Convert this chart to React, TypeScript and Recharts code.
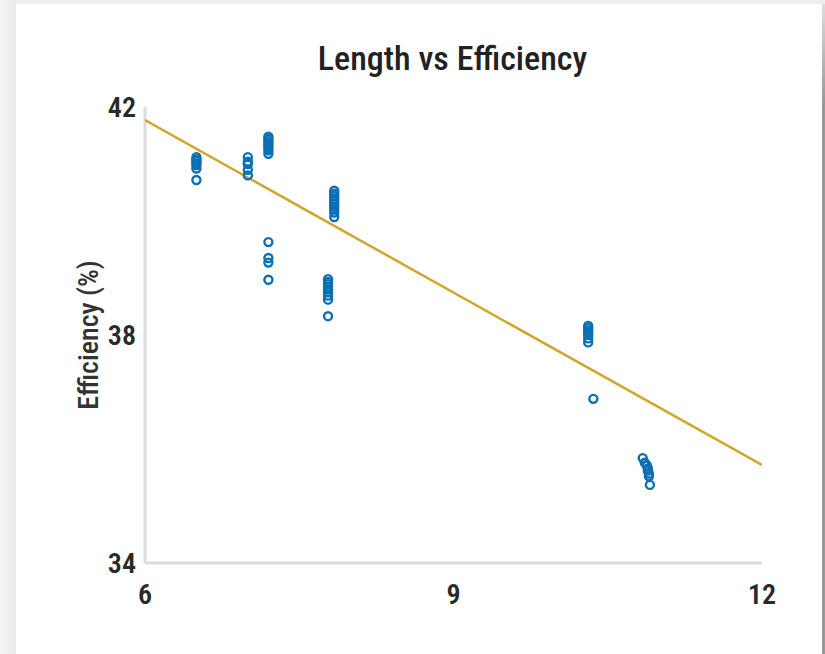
import { ScatterChart, Scatter, XAxis, YAxis } from "recharts"

// measured points, grouped by cluster
const lengths = [
  6.5, 6.5, 6.5, 6.5, 6.5, 6.5, 6.5,
  7.0, 7.0, 7.0, 7.0, 7.0,
  7.2, 7.2, 7.2, 7.2, 7.2, 7.2, 7.2, 7.2,
  7.2, 7.2, 7.2, 7.2,
  7.84, 7.84, 7.84, 7.84, 7.84, 7.84, 7.84, 7.84, 7.84, 7.84,
  7.78, 7.78, 7.78, 7.78, 7.78, 7.78, 7.78, 7.78, 7.78,
  10.31, 10.31, 10.31, 10.31, 10.31, 10.31, 10.31, 10.36,
  10.84, 10.86, 10.88, 10.89, 10.89, 10.9, 10.9, 10.91,
]
const efficiency = [
  41.12, 41.08, 41.05, 41.01, 40.98, 40.92, 40.72,
  41.12, 41.04, 41.0, 40.9, 40.8,
  41.48, 41.44, 41.4, 41.36, 41.32, 41.28, 41.24, 41.18,
  39.63, 39.35, 39.27, 38.97,
  40.53, 40.48, 40.44, 40.39, 40.35, 40.3, 40.25, 40.2, 40.15, 40.07,
  38.98, 38.93, 38.89, 38.84, 38.8, 38.75, 38.69, 38.62, 38.33,
  38.16, 38.12, 38.08, 38.04, 38.0, 37.94, 37.87, 36.88,
  35.84, 35.76, 35.71, 35.66, 35.62, 35.57, 35.52, 35.37,
]

const fitX = [6, 12]
const fitY = [41.77, 35.72]

const xTicks = [6, 9, 12]
const yTicks = [34, 38, 42]

const points = lengths.map((x, i) => ({ x, y: efficiency[i] }))
const fitLine = fitX.map((x, i) => ({ x, y: fitY[i] }))

const font = "'Roboto Condensed', 'Liberation Sans Narrow', 'DejaVu Sans Condensed', Roboto, sans-serif"

const Ring = (props: any) => (
  <circle cx={props.cx} cy={props.cy} r={4} fill="none" stroke="#0b6fb3" strokeWidth={2.4} />
)
const NoDot = () => null

export default function App() {
  return (
    <div style={{ position: "absolute", left: 0, top: 0, width: 825, height: 654, background: "#eeeeee", overflow: "hidden" }}>
      <div style={{ position: "absolute", left: 16, top: 4, width: 806, height: 650, background: "#fff" }} />
      <div style={{ position: "absolute", left: 822, top: 4, width: 3, height: 650, background: "linear-gradient(#dddddd, #999999 15%, #999999)" }} />
      <div style={{ position: "absolute", left: 0, top: 0, width: 16, height: 654, background: "linear-gradient(90deg, #f6f6f6, #eaeaea)" }} />

      <div style={{ position: "absolute", left: 0, top: 0 }}>
        <ScatterChart width={825} height={654} margin={{ top: 107, right: 63, bottom: 41, left: 95 }}>
          <XAxis
            type="number"
            dataKey="x"
            domain={[6, 12]}
            ticks={xTicks}
            height={50}
            stroke="#dcdcdc"
            tick={{ fill: "#2a2a2a", fontSize: 28, fontWeight: 600, fontFamily: font }}
            axisLine={{ stroke: "#dcdcdc", strokeWidth: 3 }}
            tickLine={false}
            tickSize={6}
            tickMargin={15}
            allowDataOverflow
          />
          <YAxis
            type="number"
            dataKey="y"
            domain={[34, 42]}
            ticks={yTicks}
            width={50}
            tick={{ fill: "#2a2a2a", fontSize: 28, fontWeight: 600, fontFamily: font }}
            axisLine={{ stroke: "#dcdcdc", strokeWidth: 3 }}
            tickLine={false}
            tickSize={6}
            tickMargin={3}
            allowDataOverflow
          />
          <Scatter data={fitLine} line={{ stroke: "#d4a52a", strokeWidth: 2.5 }} shape={NoDot} isAnimationActive={false} />
          <Scatter data={points} shape={Ring} isAnimationActive={false} />
        </ScatterChart>
      </div>

      <div style={{ position: "absolute", left: 0, width: 905, top: 38, textAlign: "center", fontFamily: font, fontSize: 34, fontWeight: 500, color: "#222", lineHeight: "40px" }}>
        Length vs Efficiency
      </div>
      <div style={{ position: "absolute", left: 88, top: 335, transform: "translate(-50%, -50%) rotate(-90deg)", fontFamily: font, fontSize: 28, fontWeight: 500, color: "#333", whiteSpace: "nowrap" }}>
        Efficiency (%)
      </div>
    </div>
  )
}
